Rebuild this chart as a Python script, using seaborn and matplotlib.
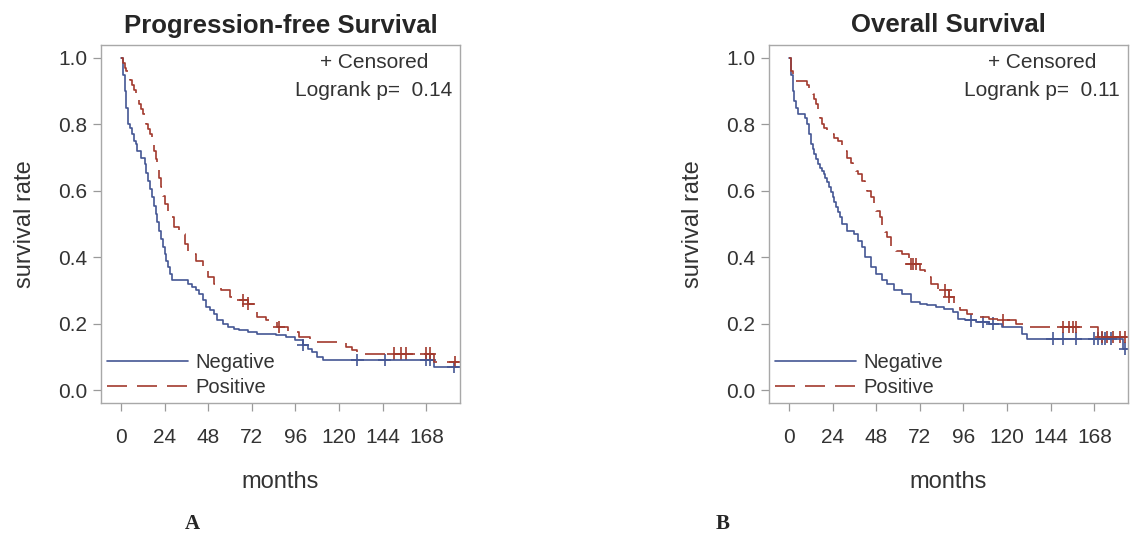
import numpy as np
import pandas as pd
import matplotlib
matplotlib.use("Agg")
import matplotlib.pyplot as plt
import seaborn as sns

# progression-free survival, step change points (months, survival after step)
pfs_neg_t = [0, 1, 2, 3, 4, 5, 6, 7, 8, 9, 11, 13, 14, 15, 16, 17, 18, 19, 20, 21, 22, 23, 24, 25,
             26, 27, 28, 37, 39, 41, 43, 45, 47, 49, 51, 53, 56, 59, 62, 65, 70, 75, 80, 85, 91, 96,
             100, 103, 105, 108, 111, 172, 186]
pfs_neg_s = [1.0, 0.95, 0.90, 0.85, 0.80, 0.79, 0.77, 0.75, 0.74, 0.72, 0.70, 0.68, 0.655, 0.63,
             0.605, 0.58, 0.555, 0.53, 0.505, 0.48, 0.455, 0.43, 0.41, 0.39, 0.37, 0.35, 0.33, 0.32,
             0.31, 0.30, 0.29, 0.27, 0.25, 0.24, 0.23, 0.21, 0.20, 0.19, 0.185, 0.18, 0.175, 0.17,
             0.168, 0.165, 0.16, 0.15, 0.135, 0.125, 0.115, 0.10, 0.09, 0.07, 0.07]
pfs_neg_cens = [100, 130, 145, 168, 170, 183]

pfs_pos_t = [0, 1, 2, 3, 4, 5, 6, 7, 8, 9, 10, 11, 12, 13, 14, 15, 16, 17, 18, 19, 20, 21, 22, 23,
             24, 26, 29, 32, 35, 37, 41, 45, 48, 51, 55, 60, 64, 70, 75, 80, 86, 92, 98, 104, 124,
             127, 130, 172, 186]
pfs_pos_s = [1.0, 0.985, 0.97, 0.96, 0.95, 0.935, 0.92, 0.905, 0.89, 0.875, 0.86, 0.845, 0.83,
             0.815, 0.80, 0.785, 0.77, 0.745, 0.72, 0.695, 0.67, 0.64, 0.61, 0.585, 0.56, 0.52, 0.49,
             0.47, 0.44, 0.41, 0.39, 0.37, 0.34, 0.32, 0.30, 0.28, 0.27, 0.26, 0.22, 0.21, 0.19,
             0.175, 0.16, 0.145, 0.13, 0.12, 0.11, 0.085, 0.085]
pfs_pos_cens = [67, 70, 87, 150, 154, 157, 168, 170, 184]

# overall survival
os_neg_t = [0, 1, 2, 3, 4, 5, 9, 10, 11, 12, 13, 14, 15, 16, 17, 18, 19, 20, 21, 22, 23, 24, 25, 26,
            27, 28, 29, 32, 36, 38, 40, 42, 45, 48, 51, 54, 58, 62, 67, 72, 76, 81, 85, 90, 93, 97,
            103, 110, 117, 128, 131, 184, 186]
os_neg_s = [1.0, 0.95, 0.90, 0.87, 0.85, 0.83, 0.82, 0.80, 0.77, 0.74, 0.725, 0.71, 0.695, 0.68,
            0.67, 0.66, 0.65, 0.64, 0.625, 0.61, 0.595, 0.58, 0.565, 0.55, 0.535, 0.52, 0.50, 0.48,
            0.47, 0.45, 0.43, 0.40, 0.37, 0.35, 0.33, 0.32, 0.30, 0.29, 0.265, 0.26, 0.255, 0.25,
            0.245, 0.235, 0.215, 0.21, 0.205, 0.20, 0.19, 0.17, 0.155, 0.125, 0.125]
os_neg_cens = [100, 107, 112, 145, 151, 158, 168, 170, 172, 174, 177, 185]

os_pos_t = [0, 1, 2, 10, 11, 12, 13, 14, 15, 16, 17, 18, 19, 21, 23, 25, 27, 29, 30, 32, 34, 35, 37,
            38, 40, 42, 43, 45, 47, 48, 50, 51, 53, 54, 56, 59, 62, 66, 72, 75, 78, 82, 88, 91, 94,
            98, 104, 110, 118, 125, 129, 170, 186]
os_pos_s = [1.0, 0.96, 0.93, 0.92, 0.91, 0.90, 0.89, 0.875, 0.86, 0.84, 0.82, 0.80, 0.79, 0.78,
            0.77, 0.76, 0.75, 0.735, 0.72, 0.70, 0.685, 0.67, 0.66, 0.65, 0.63, 0.615, 0.60, 0.58,
            0.56, 0.54, 0.52, 0.49, 0.475, 0.46, 0.43, 0.42, 0.41, 0.38, 0.36, 0.34, 0.32, 0.30,
            0.28, 0.26, 0.24, 0.23, 0.22, 0.215, 0.21, 0.20, 0.19, 0.16, 0.16]
os_pos_cens = [67, 68, 70, 86, 88, 118, 151, 154, 156, 158, 172, 175, 178, 182, 185]

titles = ["Progression-free Survival", "Overall Survival"]
pvalues = ["0.14", "0.11"]
panel_tags = ["A", "B"]
groups = ["Negative", "Positive"]
x_ticks = [0, 24, 48, 72, 96, 120, 144, 168]
y_ticks = [0.0, 0.2, 0.4, 0.6, 0.8, 1.0]

colors = {"Negative": "#445694", "Positive": "#A23A2E"}


def surv_at(t, s, times):
    idx = np.searchsorted(np.array(t), np.array(times), side="right") - 1
    return np.array(s)[idx]


def build(neg_t, neg_s, neg_c, pos_t, pos_s, pos_c):
    curves = pd.concat([
        pd.DataFrame({"months": neg_t, "surv": neg_s, "group": "Negative"}),
        pd.DataFrame({"months": pos_t, "surv": pos_s, "group": "Positive"}),
    ], ignore_index=True)
    cens = pd.concat([
        pd.DataFrame({"months": neg_c, "surv": surv_at(neg_t, neg_s, neg_c), "group": "Negative"}),
        pd.DataFrame({"months": pos_c, "surv": surv_at(pos_t, pos_s, pos_c), "group": "Positive"}),
    ], ignore_index=True)
    return curves, cens


panels = [
    build(pfs_neg_t, pfs_neg_s, pfs_neg_cens, pfs_pos_t, pfs_pos_s, pfs_pos_cens),
    build(os_neg_t, os_neg_s, os_neg_cens, os_pos_t, os_pos_s, os_pos_cens),
]

sns.set_style("white")
plt.rcParams["font.family"] = ["Liberation Sans", "DejaVu Sans"]

fig = plt.figure(figsize=(11.31, 5.39), dpi=100)
lefts = [101 / 1131, 769 / 1131]
tag_x = [192 / 1131, 723 / 1131]

for i, (curves, cens) in enumerate(panels):
    ax = fig.add_axes([lefts[i], 1 - 403 / 539, 359 / 1131, 358 / 539])
    sns.lineplot(data=curves, x="months", y="surv", hue="group", style="group",
                 hue_order=groups, style_order=groups, palette=colors,
                 dashes={"Negative": "", "Positive": (12, 6)},
                 estimator=None, drawstyle="steps-post", linewidth=1.2, ax=ax)
    sns.scatterplot(data=cens, x="months", y="surv", hue="group", hue_order=groups,
                    palette=colors, marker="+", s=80, linewidth=1.2, legend=False, ax=ax)

    ax.set_xlim(-11, 186.5)
    ax.set_ylim(-0.039, 1.039)
    ax.set_xticks(x_ticks)
    ax.set_yticks(y_ticks)
    ax.set_yticklabels([f"{v:.1f}" for v in y_ticks])
    ax.tick_params(axis="both", direction="out", length=6, width=0.9, color="#9a9a9a",
                   labelsize=15, labelcolor="#333333", bottom=True, left=True)
    ax.tick_params(axis="x", pad=12)
    ax.tick_params(axis="y", pad=4)
    for sp in ax.spines.values():
        sp.set_visible(True)
        sp.set_color("#a8a8a8")
        sp.set_linewidth(1.0)

    ax.set_title(titles[i], fontsize=18.5, fontweight="bold", pad=9)
    ax.set_xlabel("months", fontsize=17, color="#333333", labelpad=17)
    ax.set_ylabel("survival rate", fontsize=17, color="#333333", labelpad=16)

    ax.text(0.76, 0.950, "+ Censored", transform=ax.transAxes, ha="center", va="center",
            fontsize=15, color="#333333")
    ax.text(0.76, 0.874, f"Logrank p=  {pvalues[i]}", transform=ax.transAxes, ha="center",
            va="center", fontsize=15, color="#333333")

    handles, labels = ax.get_legend_handles_labels()
    ax.legend(handles, labels, loc="lower left", bbox_to_anchor=(0.0, 0.0), frameon=False,
              fontsize=14.5, handlelength=4.0, handletextpad=0.4, labelspacing=0.28,
              borderpad=0.1, borderaxespad=0.2, labelcolor="#333333")

    fig.text(tag_x[i], 0.027, panel_tags[i], fontsize=15, fontweight="bold",
             family="Liberation Serif", ha="center", va="center")

fig.savefig("out.png", dpi=100)
